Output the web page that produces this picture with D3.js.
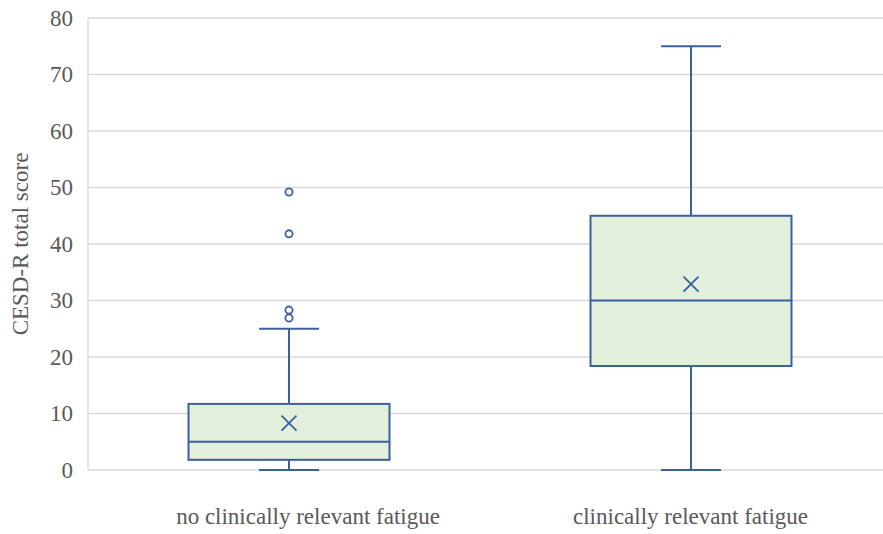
<!DOCTYPE html>
<html>
<head>
<meta charset="utf-8">
<script src="https://cdn.jsdelivr.net/npm/d3@7"></script>
<style>
  body { margin: 0; background: #fff; }
  svg text { font-family: "Liberation Serif", "Times New Roman", "DejaVu Serif", serif; fill: #595959; }
</style>
</head>
<body>
<div id="chart"></div>
<script>
// groups and their five-number summaries
const groups = ["no clinically relevant fatigue", "clinically relevant fatigue"];
const whiskerLow = [0, 0];
const q1 = [1.8, 18.4];
const median = [5, 30];
const q3 = [11.7, 45];
const whiskerHigh = [25, 75];
const means = [8.3, 32.9];
const outliers = [[26.9, 28.3, 41.8, 49.2], []];
const yTicks = [0, 10, 20, 30, 40, 50, 60, 70, 80];

const boxStroke = "#3c5fa0";
const boxFill = "#e2efda";
const serif = '"Liberation Serif", "Times New Roman", serif';

// set the dimensions and margins of the graph
const W = 883, H = 534;
const margin = {top: 18, right: -9, bottom: 64, left: 88},
    width = W - margin.left - margin.right,
    height = H - margin.top - margin.bottom;

const svg = d3.select("#chart")
    .append("svg")
        .attr("width", W)
        .attr("height", H)
    .append("g")
        .attr("transform", `translate(${margin.left},${margin.top})`);

const x = d3.scaleBand()
    .domain(groups)
    .range([0, width]);

// category labels sit slightly apart from the box centres in the original
const xLabel = d3.scalePoint()
    .domain(groups)
    .range([219.5, 602]);

const y = d3.scaleLinear()
    .domain([0, 80])
    .range([height, 0]);

// gridlines
svg.append("g")
    .selectAll("line")
    .data(yTicks)
    .join("line")
        .attr("x1", 0)
        .attr("x2", W - margin.left)
        .attr("y1", d => y(d))
        .attr("y2", d => y(d))
        .attr("stroke", "#d9d9d9")
        .attr("stroke-width", 1.3);

// left axis line
svg.append("line")
    .attr("x1", 0).attr("x2", 0)
    .attr("y1", y(80)).attr("y2", y(0))
    .attr("stroke", "#d9d9d9")
    .attr("stroke-width", 1.3);

// Y axis labels
const yAxis = svg.append("g")
    .call(d3.axisLeft(y).tickValues(yTicks).tickSize(0).tickPadding(15));
yAxis.attr("font-family", serif).attr("font-size", 23);
yAxis.select(".domain").remove();
yAxis.selectAll("text").attr("fill", "#595959");

// X axis labels
const xAxis = svg.append("g")
    .attr("transform", `translate(0, ${height})`)
    .call(d3.axisBottom(xLabel).tickSize(0).tickPadding(38));
xAxis.attr("font-family", serif).attr("font-size", 23);
xAxis.select(".domain").remove();
xAxis.selectAll("text").attr("fill", "#595959");

// axis title
svg.append("text")
    .attr("transform", `translate(${20 - margin.left}, ${244 - margin.top}) rotate(-90)`)
    .attr("text-anchor", "middle")
    .attr("dy", "0.35em")
    .attr("font-family", serif)
    .attr("font-size", 23)
    .text("CESD-R total score");

const boxW = x.bandwidth() * 0.5;
const capW = 60;

const boxes = svg.append("g")
    .selectAll("g")
    .data(groups)
    .join("g")
        .attr("transform", d => `translate(${x(d) + x.bandwidth() / 2},0)`);

// whiskers
boxes.append("line")
    .attr("x1", 0).attr("x2", 0)
    .attr("y1", (d, i) => y(whiskerLow[i]))
    .attr("y2", (d, i) => y(whiskerHigh[i]))
    .attr("stroke", boxStroke)
    .attr("stroke-width", 2);

boxes.selectAll(".cap")
    .data((d, i) => [whiskerLow[i], whiskerHigh[i]])
    .join("line")
        .attr("class", "cap")
        .attr("x1", -capW / 2).attr("x2", capW / 2)
        .attr("y1", d => y(d)).attr("y2", d => y(d))
        .attr("stroke", boxStroke)
        .attr("stroke-width", 2);

// box
boxes.append("rect")
    .attr("x", -boxW / 2)
    .attr("width", boxW)
    .attr("y", (d, i) => y(q3[i]))
    .attr("height", (d, i) => y(q1[i]) - y(q3[i]))
    .attr("fill", boxFill)
    .attr("stroke", boxStroke)
    .attr("stroke-width", 2);

// median
boxes.append("line")
    .attr("x1", -boxW / 2).attr("x2", boxW / 2)
    .attr("y1", (d, i) => y(median[i]))
    .attr("y2", (d, i) => y(median[i]))
    .attr("stroke", boxStroke)
    .attr("stroke-width", 2);

// mean marker (x)
const mk = 7.5;
boxes.append("path")
    .attr("d", (d, i) => {
        const cy = y(means[i]);
        return `M${-mk},${cy - mk}L${mk},${cy + mk}M${-mk},${cy + mk}L${mk},${cy - mk}`;
    })
    .attr("stroke", boxStroke)
    .attr("stroke-width", 1.8)
    .attr("fill", "none");

// outliers
boxes.selectAll(".outlier")
    .data((d, i) => outliers[i])
    .join("circle")
        .attr("class", "outlier")
        .attr("cx", 0)
        .attr("cy", d => y(d))
        .attr("r", 3.6)
        .attr("fill", "#fff")
        .attr("stroke", boxStroke)
        .attr("stroke-width", 1.8);
</script>
</body>
</html>
